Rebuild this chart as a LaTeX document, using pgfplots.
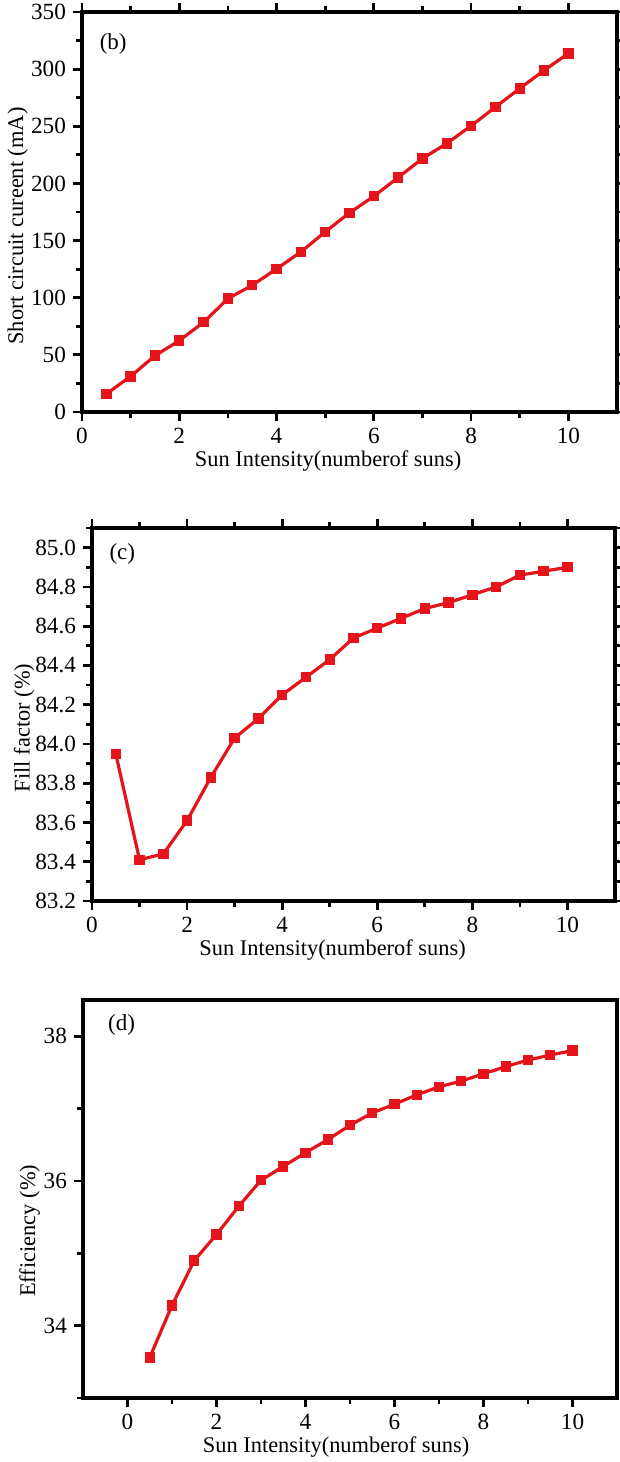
\documentclass[border=0pt]{standalone}
\usepackage{fontspec}
\setmainfont{Liberation Serif}
\usepackage{pgfplots}
\pgfplotsset{compat=1.18}
\definecolor{lred}{RGB}{228,20,26}
\pgfplotsset{
  panel/.style={
    scale only axis,
    axis line style={line width=1.7pt},
    tick style={line width=1.4pt,black},
    major tick length=4.5pt,
    minor tick length=3pt,
    tick align=outside,
    tick label style={font=\fontsize{11.6}{13}\selectfont},
    label style={font=\fontsize{11.2}{13}\selectfont},
    /pgf/number format/assume math mode=true,
  },
  redline/.style={color=lred,line width=1.6pt,mark=square*,mark size=1.8pt,mark options={solid,fill=lred}},
}
\begin{document}
\begin{tikzpicture}
\useasboundingbox (0,0) rectangle (310pt,-731pt);
% panel b
\begin{axis}[panel,
  at={(41pt,-206pt)}, anchor=south west,
  width=267.5pt, height=200pt,
  xmin=0, xmax=11, ymin=0, ymax=350,
  xtick={0,2,4,6,8,10}, minor xtick={1,3,5,7,9},
  ytick={0,50,100,150,200,250,300,350},
  minor ytick={25,75,125,175,225,275,325},
  xlabel={Sun Intensity(numberof suns)},
  ylabel={Short circuit cureent (mA)},
  xlabel style={at={(axis description cs:0.46,-0.122)},anchor=center},
  ylabel style={at={(axis description cs:-0.12,0.465)},anchor=center},
]
\addplot[redline] coordinates {(0.5,15.8)(1,31.2)(1.5,49.3)(2,62.5)(2.5,78.5)(3,99.2)(3.5,110.9)(4,125.2)(4.5,140.1)(5,157.6)(5.5,174.3)(6,188.8)(6.5,205.2)(7,221.8)(7.5,235.0)(8,250.4)(8.5,266.8)(9,283.1)(9.5,298.9)(10,313.8)};
\node[anchor=west,font=\fontsize{11.5}{13}\selectfont] at (axis description cs:0.02,0.92) {(b)};
\end{axis}
% panel c
\begin{axis}[panel,
  at={(46pt,-450.5pt)}, anchor=south west,
  width=261.5pt, height=186.5pt,
  xmin=0, xmax=11, ymin=83.2, ymax=85.1,
  xtick={0,2,4,6,8,10}, minor xtick={1,3,5,7,9},
  ytick={83.2,83.4,83.6,83.8,84.0,84.2,84.4,84.6,84.8,85.0},
  minor ytick={83.3,83.5,83.7,83.9,84.1,84.3,84.5,84.7,84.9,85.1},
  yticklabel style={/pgf/number format/.cd,fixed,fixed zerofill,precision=1},
  xlabel={Sun Intensity(numberof suns)},
  ylabel={Fill factor (\%)},
  xlabel style={at={(axis description cs:0.46,-0.132)},anchor=center},
  ylabel style={at={(axis description cs:-0.13,0.464)},anchor=center},
]
\addplot[redline] coordinates {(0.5,83.95)(1,83.41)(1.5,83.44)(2,83.61)(2.5,83.83)(3,84.03)(3.5,84.13)(4,84.25)(4.5,84.34)(5,84.43)(5.5,84.54)(6,84.59)(6.5,84.64)(7,84.69)(7.5,84.72)(8,84.76)(8.5,84.80)(9,84.86)(9.5,84.88)(10,84.90)};
\node[anchor=west,font=\fontsize{11.5}{13}\selectfont] at (axis description cs:0.02,0.93) {(c)};
\end{axis}
% panel d
\begin{axis}[panel,
  at={(41.5pt,-699pt)}, anchor=south west,
  width=267pt, height=199pt,
  xmin=-1, xmax=11, ymin=33, ymax=38.5,
  xtick={0,2,4,6,8,10}, minor xtick={1,3,5,7,9},
  ytick={34,36,38}, minor ytick={33,35,37},
  xtick pos=bottom, ytick pos=left,
  xlabel={Sun Intensity(numberof suns)},
  ylabel={Efficiency (\%)},
  xlabel style={at={(axis description cs:0.474,-0.123)},anchor=center},
  ylabel style={at={(axis description cs:-0.10,0.42)},anchor=center},
]
\addplot[redline] coordinates {(0.5,33.56)(1,34.28)(1.5,34.90)(2,35.26)(2.5,35.65)(3,36.01)(3.5,36.20)(4,36.39)(4.5,36.57)(5,36.77)(5.5,36.94)(6,37.06)(6.5,37.19)(7,37.30)(7.5,37.38)(8,37.48)(8.5,37.58)(9,37.67)(9.5,37.74)(10,37.80)};
\node[anchor=west,font=\fontsize{11.5}{13}\selectfont] at (axis description cs:0.034,0.937) {(d)};
\end{axis}
\end{tikzpicture}
\end{document}
